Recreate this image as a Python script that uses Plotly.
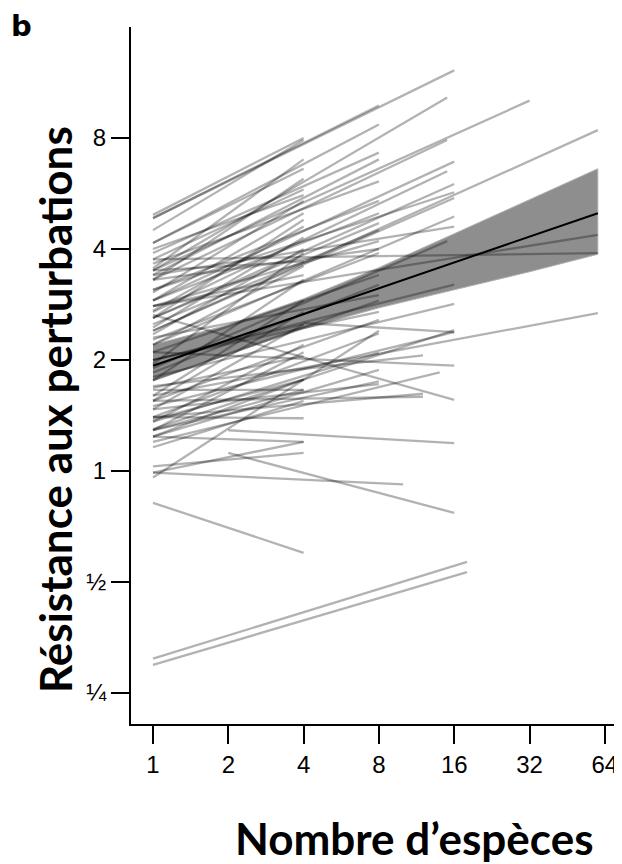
import plotly.graph_objects as go

# ---- data: individual experiments (start / end of each fitted line) ----
seg_x0 = [1, 1, 1, 1, 1, 1, 1, 1, 1, 1, 1, 1, 1, 1, 1, 1, 1, 1, 1, 1,
          1, 1, 1, 1, 1, 1, 1, 1, 1, 1, 1, 1, 1, 1, 1,
          1, 1, 1, 1, 1, 1, 1, 1, 1, 1, 1, 1, 1, 1, 1, 1, 1, 1, 1, 1, 1, 1, 1, 1,
          1, 1, 1, 1, 1,
          1, 1, 1, 1, 1, 1, 1, 1, 1, 1, 1, 1, 1, 1, 1, 1, 1, 2, 2, 4,
          1, 1, 1, 1, 1, 1, 1]
seg_y0 = [4.95, 4.5, 4.15, 3.55, 3.75, 3.3, 3.05, 2.9, 2.6, 2.45, 3.5, 2.35, 2.2, 1.95, 1.76, 1.6, 1.55, 1.47, 1.36, 1.29,
          1.24, 1.29, 1.4, 1.24, 1.03, 0.99, 0.82, 1.38, 1.68, 2.0, 4.0, 2.8, 1.66, 1.16, 2.72,
          4.85, 4.15, 3.9, 3.4, 3.65, 3.1, 2.9, 2.5, 2.8, 2.27, 2.1, 1.85, 1.76, 1.55, 1.4, 1.36, 1.24, 1.47, 2.0, 1.29, 2.3, 3.3, 0.96, 2.6,
          1.7, 1.4, 1.55, 1.2, 0.99,
          4.85, 3.5, 3.3, 2.9, 2.7, 2.6, 3.1, 2.4, 2.2, 3.4, 1.9, 2.0, 1.8, 1.5, 1.3, 2.1, 2.65, 1.29, 1.12, 2.52,
          2.4, 2.8, 3.75, 1.6, 3.5, 0.31, 0.298]
seg_x1 = [4, 4, 4, 4, 4, 4, 4, 4, 4, 4, 4, 4, 4, 4, 4, 4, 4, 4, 4, 4,
          4, 4, 4, 4, 4, 4, 4, 4, 4, 4, 4, 4, 4, 4, 4,
          8, 8, 8, 8, 8, 8, 8, 8, 8, 8, 8, 8, 8, 8, 8, 8, 8, 8, 8, 8, 8, 8, 8, 8,
          12, 12, 12, 14, 10,
          16, 15, 15, 16, 15, 16, 16, 16, 16, 16, 15, 16, 16, 16, 16, 16, 16, 16, 16, 16,
          60, 60, 60, 60, 32, 18, 18]
seg_y1 = [8.0, 7.9, 6.6, 7.0, 5.8, 6.2, 5.4, 5.0, 4.8, 4.3, 3.7, 4.0, 3.6, 3.9, 3.3, 2.9, 2.7, 2.5, 2.2, 2.1,
          1.77, 1.66, 1.39, 1.2, 1.12, 1.2, 0.60, 1.77, 2.05, 2.5, 5.6, 3.4, 1.66, 1.55, 4.6,
          9.8, 8.7, 7.3, 7.0, 6.1, 5.4, 5.0, 4.5, 4.2, 3.9, 3.4, 3.2, 2.9, 2.57, 2.36, 2.09, 1.88, 1.72, 2.7, 1.75, 3.0, 4.0, 2.4, 4.7,
          2.06, 1.62, 1.59, 1.85, 0.92,
          12.2, 10.3, 7.9, 6.9, 6.5, 6.0, 5.7, 5.5, 4.9, 4.6, 4.2, 3.2, 2.84, 2.38, 2.41, 1.93, 1.56, 1.19, 0.77, 2.38,
          8.4, 4.37, 3.9, 2.68, 10.1, 0.567, 0.532]

# ---- overall fit and confidence band ----
fit_x = [1, 60]
fit_y = [1.93, 5.0]
band_x = [1, 2, 4, 8, 16, 32, 60]
band_hi = [2.2, 2.49, 2.93, 3.56, 4.40, 5.43, 6.6]
band_lo = [1.76, 2.07, 2.43, 2.77, 3.10, 3.47, 3.87]

x_ticks = [1, 2, 4, 8, 16, 32, 64]
x_ticktext = ["1", "2", "4", "8", "16", "32", "64"]
y_ticks = [0.25, 0.5, 1, 2, 4, 8]
y_ticktext = ["¼", "½", "1", "2", "4", "8"]

fig = go.Figure()

fig.add_trace(go.Scatter(
    x=band_x + band_x[::-1], y=band_hi + band_lo[::-1],
    fill="toself", fillcolor="rgb(142,142,142)",
    line=dict(color="rgb(175,175,175)", width=1),
    mode="lines", hoverinfo="skip", showlegend=False))

for x0, y0, x1, y1 in zip(seg_x0, seg_y0, seg_x1, seg_y1):
    fig.add_trace(go.Scatter(
        x=[x0, x1], y=[y0, y1], mode="lines",
        line=dict(color="rgba(0,0,0,0.30)", width=2.3),
        hoverinfo="skip", showlegend=False))

fig.add_trace(go.Scatter(
    x=fit_x, y=fit_y, mode="lines",
    line=dict(color="black", width=2),
    hoverinfo="skip", showlegend=False))

# page has an 8px body margin: shift the figure accordingly
OFF = 8
FW, FH = 622 - OFF, 864 - OFF
L, T, W, H = 131 - OFF, 27 - OFF, 491, 697

axis_common = dict(
    ticks="outside", ticklen=18, tickwidth=2, tickcolor="black",
    showline=True, linewidth=2, linecolor="black",
    showgrid=False, zeroline=False,
    tickfont=dict(family="Liberation Sans, Arial, sans-serif", size=24, color="black"),
)

fig.update_xaxes(type="log", range=[-0.0879, 1.8748],
                 tickvals=x_ticks, ticktext=x_ticktext, **axis_common)
fig.update_yaxes(type="log", range=[-0.686, 1.204],
                 tickvals=y_ticks, ticktext=y_ticktext, **axis_common)


def px(xp, yp):
    # page pixel -> paper coordinates
    return (xp - OFF - L) / W, (T + H - (yp - OFF)) / H


bx, by = px(21, 8)
yx, yy = px(55, 410)
xx, xy = px(414, 838)

fig.update_layout(
    width=FW, height=FH,
    margin=dict(l=L, r=0, t=T, b=FH - T - H),
    paper_bgcolor="white", plot_bgcolor="white",
    annotations=[
        dict(text="<b>b</b>", x=bx, y=by, xref="paper", yref="paper",
             showarrow=False, xanchor="center", yanchor="top", borderpad=0,
             font=dict(family="DejaVu Sans, Liberation Sans", size=29, color="black")),
        dict(text="<b>Résistance aux perturbations</b>", x=yx, y=yy,
             xref="paper", yref="paper", showarrow=False, textangle=-90,
             xanchor="center", yanchor="middle",
             font=dict(family="Lato, Open Sans, sans-serif", size=44, color="black")),
        dict(text="<b>Nombre d’espèces</b>", x=xx, y=xy,
             xref="paper", yref="paper", showarrow=False,
             xanchor="center", yanchor="middle",
             font=dict(family="Lato, Open Sans, sans-serif", size=44, color="black")),
    ],
)

fig.write_html("out.html")
